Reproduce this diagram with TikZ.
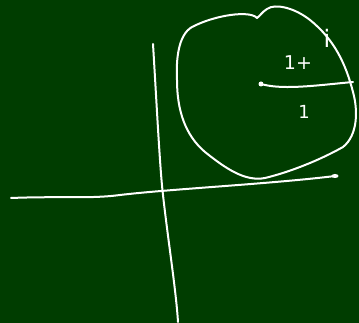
\documentclass[tikz,border=0pt]{standalone}
\usepackage{fontspec}
\setmainfont{DejaVu Sans}
\definecolor{board}{RGB}{0,61,0}
\begin{document}
\begin{tikzpicture}[x=1pt,y=-1pt,
  chalk/.style={draw=white,line width=2pt,line cap=round,line join=round},
  lbl/.style={text=white,font=\fontsize{19}{19}\selectfont,inner sep=0pt}]
\fill[board] (0,0) rectangle (359,323);
\useasboundingbox (0,0) rectangle (359,323);
% vertical axis
\coordinate (vt) at (153,44);
\coordinate (vb) at (178,322);
\draw[chalk] (vt) .. controls (157,110) and (160,170) .. (163,195)
  .. controls (168,240) and (176,290) .. (vb);
% horizontal axis
\coordinate (hl) at (11,198);
\coordinate (hr) at (335,176);
\draw[chalk] (hl) .. controls (60,196) and (90,199) .. (120,195)
  .. controls (170,189) and (270,184) .. (hr);
\fill[white] (hr) ellipse (3.5pt and 2pt);
% blob (disk)
\draw[chalk] (257,18) .. controls (250,10) and (215,15) .. (192,27)
  .. controls (178,35) and (176,60) .. (177,80)
  .. controls (177,110) and (185,135) .. (205,152)
  .. controls (225,168) and (245,182) .. (265,178)
  .. controls (290,172) and (320,160) .. (343,147)
  .. controls (358,135) and (358,110) .. (353,92)
  .. controls (346,65) and (335,40) .. (310,20)
  .. controls (295,8) and (275,3) .. (267,9)
  .. controls (262,12) and (260,16) .. (257,18) -- cycle;
% radius
\node[circle,fill=white,inner sep=0pt,minimum size=5pt] (c) at (261,84) {};
\coordinate (e) at (353,82);
\draw[chalk] (c) .. controls (285,90) and (320,85) .. (e);
% labels
\node[lbl] (t1) at (298,63) {1+};
\node[lbl,font=\fontsize{24}{24}\selectfont] (t2) at (327,38) {i};
\node[lbl,font=\fontsize{18}{18}\selectfont] (r) at (304,112) {1};
\end{tikzpicture}
\end{document}
